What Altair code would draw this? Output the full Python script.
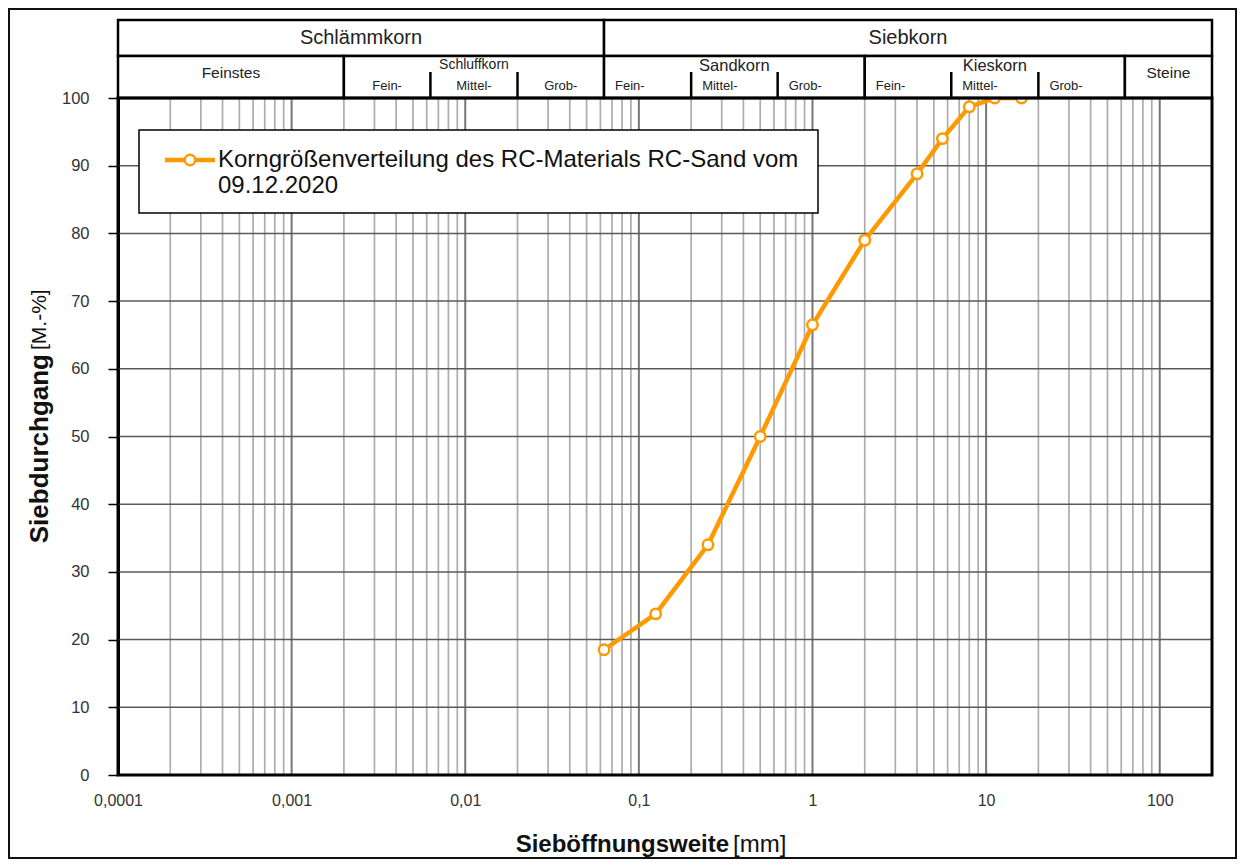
import altair as alt
import pandas as pd
import math

# ---------------- data ----------------
sieve_mm = [0.063, 0.125, 0.25, 0.5, 1, 2, 4, 5.6, 8, 11.2, 16]
passing_pct = [18.5, 23.8, 34.0, 50.0, 66.5, 79.0, 88.8, 94.0, 98.7, 100.0, 100.0]
legend_line1 = "Korngrößenverteilung des RC-Materials RC-Sand vom"
legend_line2 = "09.12.2020"

x_tick_values = [0.0001, 0.001, 0.01, 0.1, 1, 10, 100]
y_tick_values = [0, 10, 20, 30, 40, 50, 60, 70, 80, 90, 100]
x_domain = [0.0001, 200]
minor_steps = [2, 3, 4, 5, 6, 7, 8, 9]

# soil classification header (DIN 4022)
top_labels = ["Schlämmkorn", "Siebkorn"]
top_lo = [0.0001, 0.063]
top_hi = [0.063, 200]
mid_labels = ["Feinstes", "Schluffkorn", "Sandkorn", "Kieskorn", "Steine"]
mid_lo = [0.0001, 0.002, 0.063, 2, 63]
mid_hi = [0.002, 0.063, 2, 63, 200]
silt_sub_labels = ["Fein-", "Mittel-", "Grob-"]
silt_sub_lo = [0.002, 0.0063, 0.02]
silt_sub_hi = [0.0063, 0.02, 0.063]
coarse_sub_labels = ["Fein-", "Mittel-", "Grob-", "Fein-", "Mittel-", "Grob-"]
coarse_sub_lo = [0.063, 0.2, 0.63, 2, 6.3, 20]
sub_dividers = [0.0063, 0.02, 0.2, 0.63, 6.3, 20]

# ---------------- tables ----------------
W, H = 1094, 677
FONT = "Liberation Sans"
ORANGE = "#FF9900"
TXT = "#222222"

def gmid(a, b):
    return 10 ** ((math.log10(a) + math.log10(b)) / 2)

df = pd.DataFrame({"d": sieve_mm, "p": passing_pct})
major_df = pd.DataFrame({"d": x_tick_values})
minor_df = pd.DataFrame({"d": [m * t for t in x_tick_values[:-1] for m in minor_steps]})
hgrid_df = pd.DataFrame({"p": y_tick_values})
top_df = pd.DataFrame({"lab": top_labels, "d": top_lo, "hi": top_hi,
                       "c": [gmid(a, b) for a, b in zip(top_lo, top_hi)]})
mid_df = pd.DataFrame({"lab": mid_labels, "d": mid_lo, "hi": mid_hi,
                       "c": [gmid(a, b) for a, b in zip(mid_lo, mid_hi)]})
silt_df = pd.DataFrame({"lab": silt_sub_labels,
                        "c": [gmid(a, b) for a, b in zip(silt_sub_lo, silt_sub_hi)]})
coarse_df = pd.DataFrame({"lab": coarse_sub_labels, "d": coarse_sub_lo})
div_df = pd.DataFrame({"d": sub_dividers})
one = pd.DataFrame({"k": [0]})

xscale = alt.Scale(type="log", domain=x_domain, nice=False)
yscale = alt.Scale(domain=[0, 100], nice=False)

x_axis = alt.Axis(
    values=x_tick_values, labelExpr="replace(toString(datum.value), '.', ',')",
    ticks=False, grid=False, domain=False, title=None, labelFlush=False,
    labelOverlap=False, labelPadding=17, labelFont=FONT, labelFontSize=16,
    labelColor="#333333")
y_axis = alt.Axis(
    values=y_tick_values, grid=False, title=None, tickColor="black", tickSize=10,
    tickWidth=1.5, domainColor="black", domainWidth=3, labelFlush=False,
    labelOverlap=False, labelPadding=19, labelFont=FONT, labelFontSize=16.5,
    labelColor="#333333")

def X(field):
    return alt.X(f"{field}:Q", scale=xscale, axis=x_axis)

def Y(field):
    return alt.Y(f"{field}:Q", scale=yscale, axis=y_axis)

# ---------------- grid ----------------
minor = alt.Chart(minor_df).mark_rule(color="#adadad", strokeWidth=1.7).encode(
    x=X("d"), y=alt.value(0), y2=alt.value(H))
major = alt.Chart(major_df).mark_rule(color="#777777", strokeWidth=2).encode(
    x=X("d"), y=alt.value(0), y2=alt.value(H))
hgrid = alt.Chart(hgrid_df).mark_rule(color="#5a5a5a", strokeWidth=1.5).encode(
    y=Y("p"), x=alt.value(0), x2=alt.value(W))

# ---------------- data line ----------------
line = alt.Chart(df).mark_line(
    color=ORANGE, strokeWidth=4.5,
    point=alt.OverlayMarkDef(filled=True, fill="white", stroke=ORANGE, strokeWidth=2.5, size=110, opacity=1),
).encode(x=X("d"), y=Y("p"))

# ---------------- header ----------------
hdr_style = dict(fill="white", stroke="black", strokeWidth=2.5)
top_cells = alt.Chart(top_df).mark_rect(**hdr_style).encode(
    x=X("d"), x2="hi", y=alt.value(-78), y2=alt.value(-42))
mid_cells = alt.Chart(mid_df).mark_rect(**hdr_style).encode(
    x=X("d"), x2="hi", y=alt.value(-42), y2=alt.value(0))
dividers = alt.Chart(div_df).mark_rule(color="black", strokeWidth=2.5).encode(
    x=X("d"), y=alt.value(-26), y2=alt.value(0))

top_txt = alt.Chart(top_df).mark_text(font=FONT, fontSize=20, color=TXT, baseline="middle").encode(
    x=X("c"), y=alt.value(-60), text="lab:N")
mid_big = mid_df[mid_df["lab"].isin(["Sandkorn", "Kieskorn"])]
mid_small = mid_df[mid_df["lab"].isin(["Schluffkorn"])]
mid_single = mid_df[mid_df["lab"].isin(["Feinstes", "Steine"])]
mid_txt1 = alt.Chart(mid_big).mark_text(font=FONT, fontSize=16.5, color=TXT, baseline="middle").encode(
    x=X("c"), y=alt.value(-32), text="lab:N")
mid_txt2 = alt.Chart(mid_small).mark_text(font=FONT, fontSize=14, color=TXT, baseline="middle").encode(
    x=X("c"), y=alt.value(-33), text="lab:N")
mid_txt3 = alt.Chart(mid_single).mark_text(font=FONT, fontSize=15.5, color=TXT, baseline="middle").encode(
    x=X("c"), y=alt.value(-25), text="lab:N")
silt_txt = alt.Chart(silt_df).mark_text(font=FONT, fontSize=13, color=TXT, baseline="middle").encode(
    x=X("c"), y=alt.value(-12), text="lab:N")
coarse_txt = alt.Chart(coarse_df).mark_text(font=FONT, fontSize=13, color=TXT, baseline="middle",
                                            align="left", dx=11).encode(
    x=X("d"), y=alt.value(-12), text="lab:N")

# ---------------- frames ----------------
plot_frame = alt.Chart(one).mark_rect(fillOpacity=0, stroke="black", strokeWidth=3).encode(
    x=alt.value(0), x2=alt.value(W), y=alt.value(0), y2=alt.value(H))
outer_frame = alt.Chart(one).mark_rect(fillOpacity=0, stroke="#111111", strokeWidth=2).encode(
    x=alt.value(-109), x2=alt.value(1118), y=alt.value(-89), y2=alt.value(760))

# ---------------- legend ----------------
leg_box = alt.Chart(one).mark_rect(fill="white", stroke="black", strokeWidth=1.5).encode(
    x=alt.value(21), x2=alt.value(700), y=alt.value(32), y2=alt.value(115))
leg_line = alt.Chart(one).mark_rule(color=ORANGE, strokeWidth=4.5).encode(
    x=alt.value(47), x2=alt.value(97), y=alt.value(62))
leg_pt = alt.Chart(one).mark_point(filled=True, fill="white", stroke=ORANGE, strokeWidth=2.5,
                                   size=110, opacity=1, shape="circle").encode(
    x=alt.value(72), y=alt.value(62))
leg_t1 = alt.Chart(one).mark_text(font=FONT, fontSize=24, color="#111111", align="left",
                                  baseline="middle", text=legend_line1).encode(
    x=alt.value(100), y=alt.value(62))
leg_t2 = alt.Chart(one).mark_text(font=FONT, fontSize=24, color="#111111", align="left",
                                  baseline="middle", text=legend_line2).encode(
    x=alt.value(100), y=alt.value(88))

# ---------------- axis titles (bold + regular parts) ----------------
yt_b = alt.Chart(one).mark_text(font=FONT, fontSize=26, fontWeight="bold", color="#111111",
                                angle=270, align="right", baseline="middle",
                                text="Siebdurchgang").encode(x=alt.value(-78), y=alt.value(256))
yt_n = alt.Chart(one).mark_text(font=FONT, fontSize=21, color="#111111",
                                angle=270, align="left", baseline="middle",
                                text="[M.-%]").encode(x=alt.value(-78), y=alt.value(252))
xt_b = alt.Chart(one).mark_text(font=FONT, fontSize=24, fontWeight="bold", color="#111111",
                                align="right", baseline="middle",
                                text="Sieböffnungsweite").encode(x=alt.value(611), y=alt.value(747))
xt_n = alt.Chart(one).mark_text(font=FONT, fontSize=24, color="#111111",
                                align="left", baseline="middle",
                                text="[mm]").encode(x=alt.value(615), y=alt.value(747))

chart = alt.layer(
    minor, major, hgrid, line,
    top_cells, mid_cells, dividers, top_txt, mid_txt1, mid_txt2, mid_txt3, silt_txt, coarse_txt,
    plot_frame, leg_box, leg_line, leg_pt, leg_t1, leg_t2,
    yt_b, yt_n, xt_b, xt_n, outer_frame,
).properties(
    width=W, height=H,
    autosize=alt.AutoSizeParams(type="none"),
    padding={"left": 110, "top": 90, "right": 25, "bottom": 84},
).configure_view(stroke=None).configure(background="white")

chart.save("out.html", embed_options={"renderer": "svg", "actions": False})
